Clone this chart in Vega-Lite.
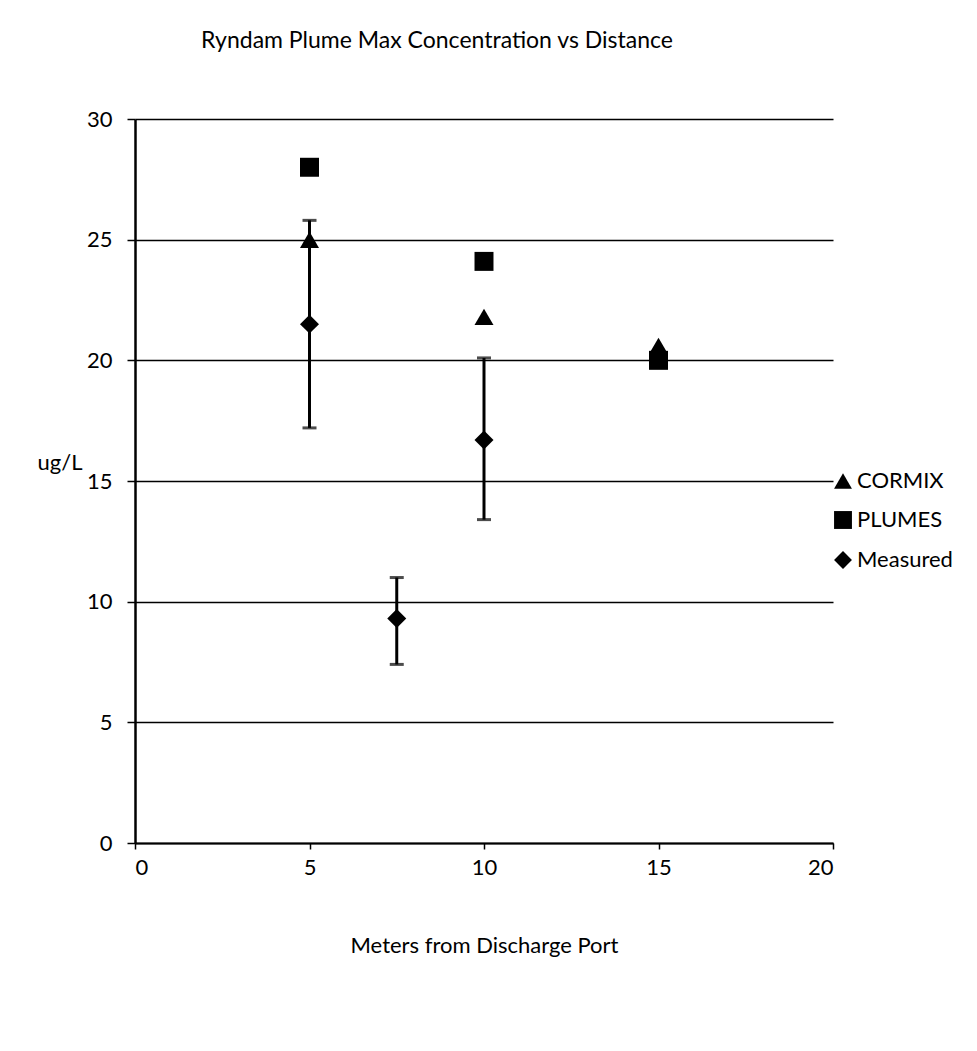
{
  "$schema": "https://vega.github.io/schema/vega-lite/v6.json",
  "width": 698,
  "height": 724,
  "autosize": {"type": "none"},
  "padding": {"left": 135, "top": 119, "right": 144, "bottom": 208},
  "background": "white",
  "title": {
    "text": "Ryndam Plume Max Concentration vs Distance",
    "font": "Lato",
    "fontSize": 23,
    "fontWeight": "normal",
    "color": "black",
    "anchor": "middle",
    "dx": -47,
    "baseline": "bottom",
    "offset": 32
  },
  "data": {
    "values": [
      {"series": "CORMIX", "x": 5, "y": 25},
      {"series": "CORMIX", "x": 10, "y": 21.8},
      {"series": "CORMIX", "x": 15, "y": 20.6},
      {"series": "PLUMES", "x": 5, "y": 28},
      {"series": "PLUMES", "x": 10, "y": 24.1},
      {"series": "PLUMES", "x": 15, "y": 20},
      {"series": "Measured", "x": 5, "y": 21.5, "lo": 17.2, "hi": 25.8},
      {"series": "Measured", "x": 7.5, "y": 9.3, "lo": 7.4, "hi": 11.0},
      {"series": "Measured", "x": 10, "y": 16.7, "lo": 13.4, "hi": 20.1}
    ]
  },
  "encoding": {
    "x": {
      "field": "x",
      "type": "quantitative",
      "scale": {"domain": [0, 20], "nice": false, "zero": true},
      "axis": {
        "title": "Meters from Discharge Port",
        "values": [0, 5, 10, 15, 20],
        "grid": false,
        "domainColor": "black",
        "domainWidth": 2,
        "tickColor": "black",
        "tickWidth": 1.5,
        "tickSize": 6,
        "labelFont": "Lato",
        "labelFontSize": 22,
        "labelColor": "black",
        "labelPadding": 8,
        "titleFont": "Lato",
        "titleFontSize": 22,
        "titleFontWeight": "normal",
        "titleColor": "black",
        "titlePadding": 57
      }
    }
  },
  "layer": [
    {
      "transform": [{"filter": "datum.series === 'Measured'"}],
      "mark": {"type": "errorbar", "ticks": true, "size": 14, "thickness": 3, "color": "black"},
      "encoding": {
        "y": {"field": "lo", "type": "quantitative", "title": "ug/L"},
        "y2": {"field": "hi"}
      }
    },
    {
      "mark": {"type": "point", "filled": true, "size": 360, "opacity": 1, "color": "black"},
      "encoding": {
        "y": {
          "field": "y",
          "type": "quantitative",
          "scale": {"domain": [0, 30], "nice": false},
          "axis": {
            "title": "ug/L",
            "values": [0, 5, 10, 15, 20, 25, 30],
            "grid": true,
            "gridColor": "black",
            "gridWidth": 1.5,
            "gridOpacity": 1,
            "domainColor": "black",
            "domainWidth": 2.5,
            "tickColor": "black",
            "tickWidth": 1.5,
            "tickSize": 8,
            "labelFont": "Lato",
            "labelFontSize": 22,
            "labelColor": "black",
            "labelPadding": 15,
            "titleFont": "Lato",
            "titleFontSize": 22,
            "titleFontWeight": "normal",
            "titleColor": "black",
            "titleAngle": 0,
            "titleAlign": "right",
            "titleBaseline": "middle",
            "titleX": -53,
            "titleY": 343
          }
        },
        "shape": {
          "field": "series",
          "type": "nominal",
          "scale": {"domain": ["CORMIX", "PLUMES", "Measured"], "range": ["triangle-up", "square", "diamond"]},
          "legend": {
            "title": null,
            "orient": "none",
            "legendX": 697,
            "legendY": 351,
            "padding": 0,
            "symbolSize": 320,
            "symbolFillColor": "black",
            "symbolStrokeColor": "black",
            "symbolOpacity": 1,
            "labelFont": "Lato",
            "labelFontSize": 22,
            "labelColor": "black",
            "labelOffset": 3,
            "rowPadding": 16
          }
        }
      }
    }
  ],
  "config": {
    "view": {"stroke": null}
  }
}
